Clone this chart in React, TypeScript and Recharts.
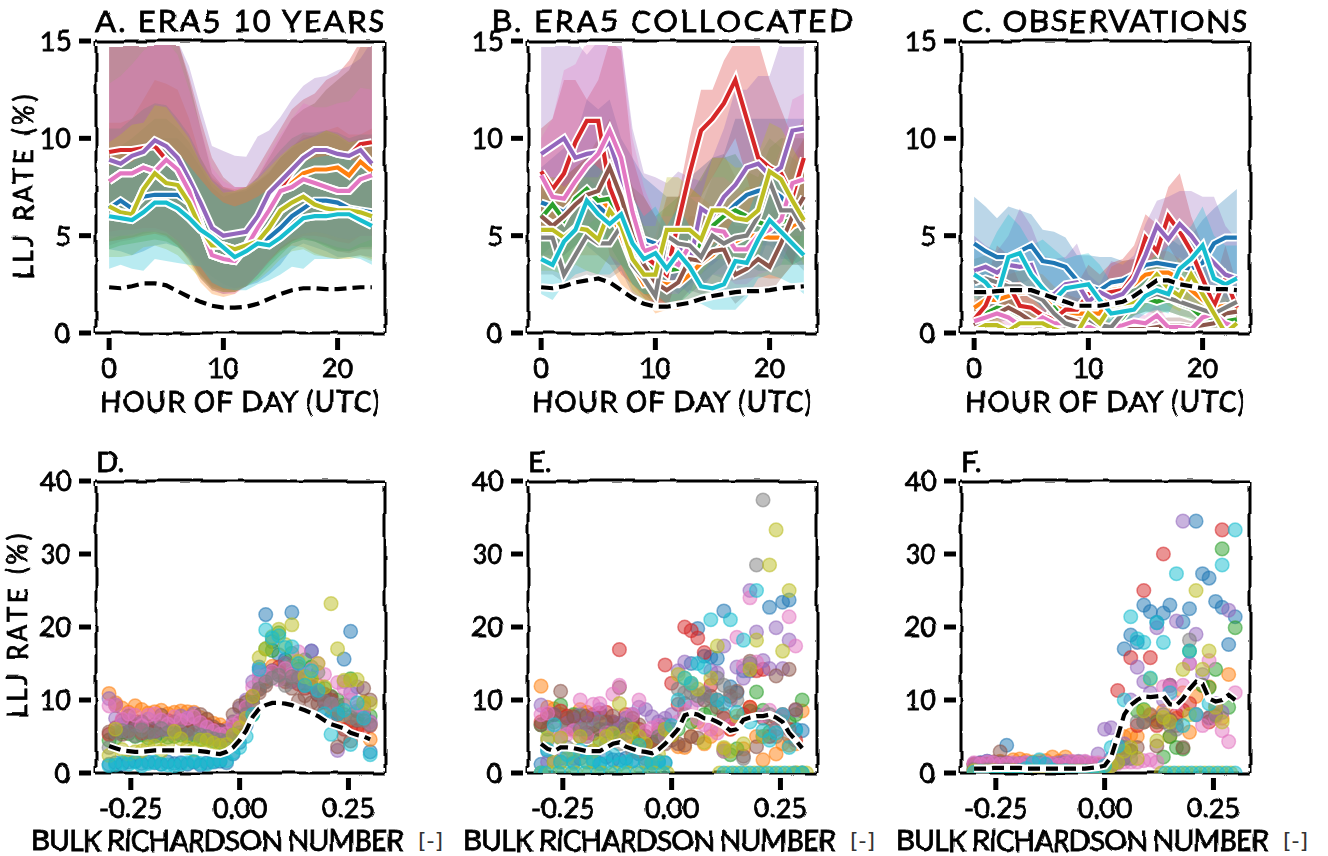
import { ComposedChart, Area, Line, Scatter, XAxis, YAxis, ReferenceLine } from 'recharts';

const n = null;
const seriesColors = ['#1f77b4', '#ff7f0e', '#2ca02c', '#d62728', '#9467bd', '#8c564b', '#e377c2', '#7f7f7f', '#bcbd22', '#17becf'];
const hours = [0, 1, 2, 3, 4, 5, 6, 7, 8, 9, 10, 11, 12, 13, 14, 15, 16, 17, 18, 19, 20, 21, 22, 23];
const hourTicks = [0, 10, 20];
const rateTicks = [0, 5, 10, 15];
const richTicks = [-0.25, 0, 0.25];
const lljTicks = [0, 10, 20, 30, 40];
const richBins = [-0.3, -0.285, -0.27, -0.255, -0.24, -0.225, -0.21, -0.195, -0.18, -0.165, -0.15, -0.135, -0.12, -0.105, -0.09, -0.075, -0.06, -0.045, -0.03, -0.015, 0, 0.015, 0.03, 0.045, 0.06, 0.075, 0.09, 0.105, 0.12, 0.135, 0.15, 0.165, 0.18, 0.195, 0.21, 0.225, 0.24, 0.255, 0.27, 0.285, 0.3];

// panel A, era5 10 years. order follows seriesColors
const meanA = [
  [6.4, 6.8, 6.4, 7.0, 7.1, 7.1, 7.1, 6.7, 5.4, 4.5, 4.5, 4.3, 4.4, 4.7, 4.9, 5.4, 6.0, 6.4, 6.8, 6.8, 6.7, 6.4, 6.3, 6.2],
  [7.8, 8.2, 8.2, 8.5, 8.3, 8.9, 8.4, 7.3, 5.6, 4.0, 3.8, 3.7, 4.5, 5.5, 6.6, 7.3, 7.7, 8.2, 8.4, 8.4, 8.5, 8.1, 8.8, 8.3],
  [6.5, 6.2, 6.1, 7.4, 8.2, 7.7, 7.6, 6.7, 5.4, 4.5, 4.5, 4.3, 4.5, 4.7, 5.4, 6.3, 6.7, 7.0, 6.6, 6.4, 6.3, 6.3, 6.2, 6.0],
  [9.3, 9.4, 9.4, 9.5, 9.6, 8.9, 8.4, 7.3, 5.6, 4.0, 3.8, 3.7, 4.5, 5.6, 6.5, 7.4, 8.3, 9.0, 9.4, 9.4, 9.2, 9.1, 9.7, 9.8],
  [8.9, 8.7, 9.1, 9.3, 9.9, 9.6, 9.0, 7.9, 6.7, 5.4, 5.0, 5.1, 5.2, 6.0, 7.2, 7.8, 8.4, 9.0, 9.4, 9.4, 9.2, 9.1, 9.4, 8.7],
  [7.8, 8.2, 8.2, 8.5, 8.3, 8.9, 8.4, 7.3, 5.6, 4.0, 3.8, 3.7, 4.4, 5.4, 6.3, 7.3, 7.5, 7.9, 7.7, 7.5, 7.3, 7.3, 7.9, 8.1],
  [7.8, 8.2, 8.2, 8.5, 8.3, 8.9, 8.4, 7.3, 5.6, 4.0, 3.8, 3.7, 4.4, 5.4, 6.3, 7.3, 7.5, 7.9, 7.7, 7.5, 7.3, 7.3, 7.9, 8.1],
  [6.0, 5.9, 5.8, 6.2, 6.7, 6.7, 6.4, 5.9, 5.3, 4.9, 4.4, 3.9, 4.2, 4.6, 4.5, 4.9, 5.4, 5.9, 6.0, 6.0, 6.1, 6.1, 5.8, 5.5],
  [6.5, 6.2, 6.1, 7.4, 8.2, 7.7, 7.6, 6.7, 5.4, 4.5, 4.5, 4.3, 4.5, 4.7, 5.4, 6.3, 6.7, 7.0, 6.6, 6.4, 6.3, 6.3, 6.2, 6.0],
  [6.0, 5.9, 5.8, 6.2, 6.7, 6.7, 6.4, 5.9, 5.3, 4.9, 4.4, 3.9, 4.2, 4.6, 4.5, 4.9, 5.4, 5.9, 6.0, 6.0, 6.1, 6.1, 5.8, 5.5],
];
const loA = [
  [4.3, 4.2, 4.0, 4.2, 4.5, 4.6, 4.4, 4.1, 3.4, 2.9, 2.5, 2.3, 2.4, 2.6, 3.0, 3.5, 4.3, 4.6, 4.4, 4.2, 3.9, 3.9, 4.0, 3.9],
  [4.7, 4.8, 4.9, 5.0, 5.1, 5.0, 4.5, 3.7, 2.6, 2.0, 1.85, 2.0, 2.5, 3.2, 3.7, 4.2, 4.5, 4.4, 4.1, 3.9, 3.8, 3.9, 4.0, 3.8],
  [4.3, 4.5, 4.6, 4.7, 4.8, 4.7, 4.4, 3.9, 3.0, 2.4, 2.2, 2.2, 2.4, 2.8, 3.4, 4.0, 4.6, 4.8, 4.7, 4.4, 4.2, 4.2, 4.4, 4.4],
  [5.2, 5.3, 5.3, 5.4, 5.4, 5.2, 4.7, 4.0, 3.0, 2.3, 2.1, 2.1, 2.4, 3.0, 3.7, 4.3, 4.7, 5.0, 5.0, 4.9, 4.7, 4.6, 5.0, 5.0],
  [5.0, 5.0, 5.1, 5.2, 5.3, 5.2, 4.8, 4.1, 3.2, 2.5, 2.3, 2.3, 2.5, 3.0, 3.8, 4.4, 4.9, 5.1, 5.2, 5.1, 4.9, 4.8, 5.0, 5.0],
  [4.7, 4.8, 4.9, 5.1, 5.2, 5.0, 4.5, 3.8, 2.8, 2.2, 2.0, 2.1, 2.4, 3.0, 3.7, 4.3, 4.7, 4.9, 4.7, 4.5, 4.2, 4.1, 4.3, 4.3],
  [4.8, 5.0, 5.0, 5.2, 5.2, 5.1, 4.7, 3.9, 2.8, 2.2, 2.0, 2.0, 2.4, 3.0, 3.7, 4.4, 4.8, 4.9, 4.8, 4.6, 4.4, 4.3, 4.6, 4.8],
  [4.5, 4.7, 4.8, 5.0, 5.1, 4.9, 4.5, 3.8, 2.9, 2.3, 2.1, 2.1, 2.4, 3.0, 3.6, 4.2, 4.6, 4.8, 4.7, 4.5, 4.3, 4.2, 4.4, 4.5],
  [3.9, 3.9, 4.0, 4.4, 4.5, 4.3, 4.0, 3.4, 2.8, 2.2, 2.1, 2.1, 2.4, 2.7, 3.2, 3.8, 4.2, 4.3, 4.0, 3.9, 3.8, 3.8, 3.9, 3.7],
  [3.3, 3.5, 3.3, 3.2, 3.8, 3.7, 3.6, 3.5, 3.4, 2.6, 2.3, 2.2, 2.2, 2.5, 2.7, 3.0, 3.4, 3.3, 3.8, 3.8, 3.8, 3.9, 3.8, 3.5],
];
const hiA = [
  [9.5, 9.4, 9.7, 9.8, 10, 10, 10, 9.4, 8.5, 7.5, 7.0, 7.2, 7.3, 7.7, 8.2, 9.0, 9.5, 9.8, 10.1, 10.3, 10.1, 9.7, 9.9, 9.8],
  [10.8, 10.8, 11, 12, 13, 12.8, 12.5, 11, 9.0, 8.0, 7.5, 7.4, 7.5, 7.8, 8.2, 9.0, 9.5, 10.2, 10.1, 10.4, 10.6, 10.2, 10.2, 10.5],
  [9.3, 9.6, 10, 10.5, 11, 11, 10.5, 9.8, 8.7, 7.7, 7.2, 7.2, 7.4, 7.8, 8.3, 9.0, 9.6, 10, 10.2, 10.4, 10.2, 9.8, 10, 10],
  [15, 15, 15, 15, 15, 15, 15, 13.2, 11, 9.0, 8.0, 7.5, 7.5, 8.5, 9.5, 10.5, 11.5, 12, 12.3, 13, 13.3, 14, 15, 15],
  [15, 15, 15, 15, 15, 15, 15, 13.7, 11.6, 9.6, 9.35, 9.1, 9.05, 10.1, 10.4, 11.1, 12, 12.7, 13.1, 13.2, 13.5, 13.7, 14.1, 15],
  [15, 15, 15, 15, 15, 15, 15, 13, 10.5, 8.2, 7.5, 7.3, 7.4, 8.0, 9.0, 10, 11, 11.5, 11.8, 12.5, 13, 13.5, 14.7, 15],
  [12.8, 13.2, 13.8, 14.5, 15, 15, 14.3, 12.5, 10.5, 8.5, 7.8, 7.5, 7.5, 8.0, 9.2, 10.2, 11, 11.8, 11.6, 11.6, 11.8, 11.9, 12.6, 12.5],
  [10.5, 10.5, 11, 11.5, 11.8, 11.7, 11, 10.2, 9.0, 7.9, 7.4, 7.3, 7.5, 8.0, 8.7, 9.4, 10, 10.3, 10.3, 10.4, 10.3, 10, 10.2, 10.2],
  [9.8, 10.2, 10.7, 10.8, 11.7, 11.6, 10.8, 10, 8.7, 7.8, 7.2, 7.3, 7.5, 7.9, 8.5, 9.1, 9.6, 9.9, 10.1, 10.4, 10.2, 9.8, 9.9, 9.9],
  [8.6, 8.6, 8.8, 9.2, 9.8, 9.7, 9.3, 8.6, 7.9, 7.2, 6.7, 6.5, 6.7, 7.0, 7.4, 8.0, 8.4, 8.8, 9.0, 9.1, 9.1, 8.9, 8.8, 8.4],
];
const dashedA = [2.35, 2.3, 2.4, 2.55, 2.55, 2.45, 2.15, 1.85, 1.6, 1.4, 1.3, 1.3, 1.35, 1.5, 1.75, 2.0, 2.2, 2.3, 2.3, 2.25, 2.25, 2.3, 2.35, 2.35];

// panel B, era5 collocated
const meanB = [
  [6.7, 6.5, 6.2, 6.8, 7.2, 6.5, 6.0, 5.5, 5.0, 4.8, 4.6, 4.0, 3.8, 4.2, 4.8, 5.6, 6.0, 6.6, 7.1, 7.3, 7.4, 7.0, 6.3, 6.1],
  [6.0, 5.6, 5.9, 6.6, 7.0, 7.0, 6.4, 5.0, 3.5, 2.5, 2.6, 2.5, 2.5, 3.0, 3.6, 4.0, 4.6, 4.7, 5.0, 5.0, 4.9, 4.9, 5.5, 5.8],
  [5.9, 6.6, 5.8, 6.9, 7.4, 6.8, 6.9, 5.5, 4.5, 3.5, 3.2, 3.2, 3.3, 3.7, 4.6, 5.5, 6.0, 6.3, 6.0, 5.7, 5.5, 5.7, 5.8, 6.1],
  [8.3, 7.4, 8.2, 9.8, 10.9, 10.9, 7.5, 6.0, 5.0, 4.0, 3.5, 3.0, 5.7, 8.2, 10.4, 11, 11.8, 13, 11, 9.0, 8.5, 8.2, 7.0, 9.0],
  [9.2, 9.6, 10, 9.0, 9.2, 9.3, 9.8, 8.0, 6.5, 4.5, 4.3, 5.0, 4.5, 3.5, 6.4, 6.0, 7.0, 7.6, 8.5, 8.7, 8.1, 8.5, 10.4, 10.5],
  [6.0, 5.5, 6.0, 6.6, 7.1, 7.3, 8.5, 7.0, 5.0, 3.5, 2.6, 2.2, 2.6, 3.8, 3.7, 4.2, 4.3, 3.0, 3.3, 3.8, 3.4, 4.6, 6.0, 7.0],
  [8.1, 7.0, 6.9, 7.8, 8.6, 9.2, 10.4, 9.0, 6.2, 4.2, 4.4, 3.8, 3.5, 4.5, 4.0, 5.3, 5.2, 4.3, 4.3, 5.0, 5.3, 5.8, 7.7, 7.9],
  [4.9, 4.9, 3.0, 4.0, 5.0, 4.6, 4.6, 5.5, 3.5, 2.8, 1.9, 5.0, 4.6, 4.5, 3.9, 5.0, 4.6, 4.9, 5.0, 6.0, 7.8, 6.3, 6.3, 5.3],
  [5.3, 5.3, 4.9, 5.4, 5.3, 4.8, 6.3, 5.5, 3.8, 3.0, 3.0, 5.3, 5.3, 5.3, 4.8, 6.3, 6.3, 5.9, 5.8, 6.3, 8.3, 7.9, 6.8, 5.8],
  [3.8, 3.5, 4.7, 5.3, 6.8, 6.1, 5.6, 6.1, 4.6, 3.8, 4.1, 3.3, 4.1, 3.4, 2.4, 2.3, 2.5, 3.7, 3.6, 4.8, 5.8, 5.2, 4.6, 4.0],
];
const loB = [
  [4.0, 4.0, 4.0, 4.5, 4.5, 4.0, 3.5, 3.5, 3.0, 3.0, 3.0, 2.5, 2.0, 2.5, 3.0, 3.5, 4.0, 4.0, 4.5, 4.5, 4.5, 4.0, 3.5, 3.5],
  [4.0, 3.5, 3.5, 4.0, 4.0, 4.0, 3.5, 2.5, 2.0, 1.8, 1.0, 1.2, 1.2, 1.5, 2.0, 2.0, 2.7, 2.7, 2.8, 2.9, 2.8, 2.8, 3.5, 3.5],
  [4.0, 4.5, 3.5, 4.5, 5.0, 4.5, 4.5, 3.5, 2.5, 2.0, 1.8, 1.5, 1.5, 2.0, 2.5, 3.0, 3.5, 3.8, 3.5, 3.2, 3.2, 3.5, 3.5, 3.8],
  [5.5, 4.5, 5.0, 6.0, 7.0, 7.0, 4.0, 3.0, 2.5, 1.8, 1.5, 1.2, 3.0, 5.0, 7.0, 8.0, 9.0, 10, 8.0, 6.0, 5.0, 4.5, 3.5, 5.5],
  [6.0, 6.5, 6.5, 5.5, 6.0, 6.0, 6.0, 5.0, 4.0, 2.5, 2.5, 3.0, 2.5, 2.0, 3.5, 3.5, 4.0, 4.5, 5.5, 5.5, 5.0, 5.0, 6.5, 7.0],
  [4.0, 3.5, 4.0, 4.5, 5.0, 5.0, 5.5, 4.5, 3.0, 2.0, 1.5, 1.2, 1.5, 2.2, 2.0, 2.2, 2.3, 1.5, 2.0, 2.2, 2.0, 2.8, 3.5, 4.5],
  [5.0, 4.5, 4.5, 5.0, 5.5, 6.0, 7.0, 5.5, 3.5, 2.5, 2.5, 2.0, 2.0, 2.8, 2.2, 3.0, 3.0, 2.5, 2.5, 3.0, 3.2, 3.5, 5.0, 5.0],
  [3.0, 3.0, 2.6, 2.8, 3.0, 2.8, 2.8, 3.2, 2.0, 1.5, 1.5, 3.0, 2.8, 2.8, 2.2, 3.0, 2.8, 3.0, 3.0, 3.5, 5.0, 3.8, 3.8, 3.2],
  [3.2, 3.2, 3.0, 3.5, 3.2, 3.0, 4.0, 3.5, 2.2, 1.7, 1.7, 3.2, 3.2, 3.2, 3.0, 3.8, 3.8, 3.5, 3.5, 3.8, 5.8, 5.5, 4.5, 3.5],
  [2.0, 1.7, 2.5, 3.0, 3.2, 3.0, 3.0, 3.5, 2.5, 2.0, 2.0, 1.5, 1.7, 1.5, 1.5, 1.2, 1.2, 1.2, 1.8, 2.8, 3.0, 2.8, 2.5, 2.0],
];
const hiB = [
  [8.5, 9.0, 9.5, 10, 12, 11.5, 12, 10, 9.0, 8.0, 7.5, 7.0, 7.0, 8.0, 8.5, 9.0, 9.2, 11, 11, 11, 11, 11, 11, 11],
  [8.0, 7.0, 8.0, 8.5, 9.0, 9.0, 8.5, 7.0, 5.5, 4.5, 5.0, 7.0, 7.0, 7.5, 7.0, 6.5, 6.5, 7.0, 7.5, 7.5, 7.0, 7.0, 8.5, 10],
  [7.0, 8.0, 8.0, 8.5, 9.0, 9.0, 9.5, 8.5, 7.5, 7.0, 6.0, 6.5, 7.0, 7.0, 8.0, 9.0, 9.0, 9.2, 8.3, 8.0, 9.5, 10, 10, 10],
  [10.5, 11, 13, 13, 12, 13, 15, 14.5, 9.0, 7.0, 6.0, 5.0, 7.0, 10, 12.5, 12.5, 14, 15, 15, 15, 13, 11.5, 10, 11],
  [15, 15, 15, 15, 14.3, 15, 15, 15, 10.5, 8.2, 8.0, 7.7, 8.3, 8.0, 7.8, 9.0, 10.5, 12.5, 12.5, 13.2, 13.2, 15, 15, 15],
  [8.0, 7.5, 8.0, 8.5, 9.0, 10, 11, 9.5, 7.5, 5.5, 4.5, 4.5, 5.0, 6.0, 6.0, 6.5, 6.5, 5.5, 5.5, 6.0, 6.0, 7.0, 9.0, 10],
  [10, 11, 13.5, 13.8, 15, 15, 15, 15, 10, 7.5, 6.0, 6.0, 6.0, 7.0, 7.0, 8.0, 8.0, 7.5, 7.0, 7.5, 8.0, 9.5, 12, 12.3],
  [7.5, 7.0, 7.0, 7.5, 8.0, 7.5, 8.0, 8.5, 6.0, 5.0, 4.5, 7.0, 7.0, 7.0, 6.5, 8.0, 9.2, 8.0, 8.0, 9.0, 10, 9.5, 9.0, 8.5],
  [8.0, 8.0, 7.5, 8.0, 8.0, 8.0, 9.0, 8.0, 6.5, 5.5, 5.5, 8.0, 8.0, 7.5, 7.0, 9.0, 9.0, 8.5, 8.5, 9.2, 10.8, 10.5, 9.5, 8.5],
  [5.5, 5.0, 6.5, 7.0, 9.0, 8.5, 8.0, 8.5, 7.0, 6.0, 6.5, 5.5, 6.5, 5.5, 4.5, 4.5, 5.0, 6.0, 6.0, 7.5, 8.5, 8.0, 7.0, 6.5],
];
const dashedB = [2.35, 2.3, 2.4, 2.6, 2.7, 2.8, 2.6, 2.2, 1.8, 1.5, 1.35, 1.35, 1.45, 1.55, 1.75, 1.9, 2.0, 2.1, 2.15, 2.15, 2.2, 2.3, 2.35, 2.4];

// panel C, observations
const meanC = [
  [4.6, 4.2, 3.9, 3.9, 4.2, 4.5, 3.7, 3.6, 3.4, 2.7, 2.4, 2.2, 2.6, 2.7, 3.0, 3.5, 3.6, 3.5, 3.4, 3.3, 3.6, 4.6, 4.9, 4.9],
  [1.3, 1.7, 1.7, 1.9, 2.1, 2.1, 1.8, 1.4, 1.1, 1.0, 1.0, 1.0, 2.2, 2.3, 2.5, 3.0, 3.1, 3.1, 2.8, 2.2, 1.7, 1.3, 1.4, 1.2],
  [0.9, 1.0, 1.3, 1.2, 0.9, 0.6, 0.5, 1.3, 0.6, 0.4, 0.3, 0.2, 0.3, 0.8, 1.5, 1.8, 1.6, 1.8, 1.5, 1.3, 0.8, 0.7, 0.6, 0.7],
  [0.7, 1.4, 2.8, 2.5, 1.4, 1.3, 0.9, 0.7, 1.2, 1.2, 2.0, 2.0, 2.1, 2.2, 3.0, 4.9, 4.2, 6.0, 5.2, 4.2, 2.8, 1.4, 2.8, 1.3],
  [3.2, 3.4, 3.1, 3.5, 3.4, 3.5, 2.0, 2.0, 2.5, 2.6, 1.6, 2.1, 1.8, 2.0, 2.7, 4.0, 5.5, 4.8, 5.6, 5.0, 4.2, 3.6, 3.0, 2.8],
  [0.4, 0.8, 1.0, 1.3, 1.0, 0.6, 0.5, 0.4, 0.8, 0.6, 0.3, 0.3, 0.2, 0.2, 0.2, 0.2, 0.3, 0.4, 0.4, 0.3, 0.4, 0.5, 1.0, 1.1],
  [0.6, 0.8, 1.0, 0.8, 0.4, 0.4, 0.8, 0.5, 0.5, 0.4, 0.3, 0.3, 0.3, 0.4, 0.6, 0.5, 0.9, 0.3, 0.3, 0.2, 0.8, 1.0, 0.5, 0.3],
  [2.6, 2.8, 2.6, 2.4, 2.4, 2.0, 1.7, 1.0, 0.5, 0.3, 0.7, 0.4, 0.3, 1.0, 1.6, 1.8, 2.0, 1.8, 1.6, 1.4, 1.2, 1.0, 1.3, 1.6],
  [0.1, 0.4, 0.4, 0.1, 0.5, 0.5, 0.5, 0.2, 0, 0, 1.0, 0.5, 1.4, 1.5, 1.6, 2.3, 3.0, 2.3, 1.9, 3.0, 2.0, 1.0, 0, 0.5],
  [3.0, 2.6, 1.9, 3.9, 4.1, 3.0, 2.3, 1.7, 2.3, 2.4, 2.5, 1.7, 1.0, 1.1, 1.2, 1.9, 2.2, 2.0, 3.3, 3.8, 4.5, 2.8, 2.5, 2.8],
];
const loC = [
  [2.5, 2.3, 2.2, 2.2, 2.5, 2.8, 2.3, 2.0, 2.0, 1.5, 1.0, 1.0, 1.5, 1.7, 2.0, 2.5, 2.4, 2.3, 2.4, 2.0, 2.0, 3.0, 3.0, 3.0],
  [0.7, 1.0, 1.0, 1.2, 1.3, 1.3, 1.1, 0.8, 0.6, 0.5, 0.5, 0.5, 1.3, 1.4, 1.6, 2.0, 2.1, 2.1, 1.9, 1.4, 1.0, 0.7, 0.8, 0.6],
  [0.4, 0.5, 0.7, 0.6, 0.4, 0.3, 0.2, 0.7, 0.2, 0.1, 0.1, 0.05, 0.1, 0.3, 0.9, 1.1, 1.0, 1.1, 0.9, 0.7, 0.4, 0.3, 0.2, 0.3],
  [0.3, 0.6, 1.4, 1.2, 0.6, 0.6, 0.4, 0.3, 0.5, 0.5, 1.0, 1.0, 1.0, 1.0, 1.7, 3.2, 2.8, 4.5, 3.5, 2.6, 1.5, 0.6, 1.4, 0.5],
  [2.0, 2.2, 2.0, 2.2, 2.1, 2.2, 1.1, 1.1, 1.5, 1.6, 0.9, 1.3, 1.0, 1.2, 1.7, 2.6, 3.8, 3.2, 3.9, 3.4, 2.8, 2.3, 1.8, 1.6],
  [0.1, 0.4, 0.5, 0.7, 0.5, 0.3, 0.2, 0.1, 0.4, 0.3, 0.1, 0.1, 0.05, 0.05, 0.05, 0.05, 0.1, 0.1, 0.1, 0.1, 0.1, 0.2, 0.5, 0.5],
  [0.3, 0.4, 0.5, 0.4, 0.1, 0.1, 0.4, 0.2, 0.2, 0.1, 0.1, 0.1, 0.1, 0.1, 0.3, 0.2, 0.5, 0.1, 0.1, 0.05, 0.4, 0.5, 0.2, 0.1],
  [1.6, 1.8, 1.6, 1.5, 1.5, 1.2, 1.0, 0.5, 0.2, 0.1, 0.3, 0.1, 0.1, 0.5, 0.9, 1.1, 1.2, 1.1, 0.9, 0.8, 0.6, 0.5, 0.7, 0.9],
  [0, 0.1, 0.1, 0, 0.2, 0.2, 0.2, 0.05, 0, 0, 0.5, 0.2, 0.8, 0.8, 0.9, 1.4, 2.0, 1.4, 1.1, 2.0, 1.2, 0.5, 0, 0.2],
  [1.8, 1.5, 1.0, 2.4, 2.7, 1.8, 1.3, 0.9, 1.3, 1.4, 1.5, 0.9, 0.4, 0.5, 0.6, 1.0, 1.2, 1.0, 2.0, 2.5, 3.0, 1.6, 1.4, 1.6],
];
const hiC = [
  [7.0, 6.5, 5.9, 6.5, 6.3, 6.1, 5.3, 5.2, 4.9, 4.0, 4.0, 3.9, 3.9, 3.7, 3.8, 4.5, 4.9, 4.9, 4.5, 5.0, 5.8, 6.4, 6.9, 7.4],
  [2.2, 2.8, 2.8, 3.0, 3.2, 3.2, 3.0, 2.4, 2.0, 1.8, 1.8, 1.8, 3.4, 3.7, 3.8, 4.0, 4.2, 4.2, 3.8, 3.2, 2.8, 2.2, 2.3, 2.0],
  [1.5, 1.7, 2.0, 1.9, 1.5, 1.1, 1.0, 2.0, 1.1, 0.8, 0.7, 0.6, 0.7, 1.5, 2.5, 2.9, 2.7, 2.9, 2.4, 2.1, 1.4, 1.3, 1.1, 1.2],
  [1.5, 2.5, 4.5, 4.0, 2.5, 2.0, 1.5, 1.5, 2.5, 2.5, 3.5, 3.0, 3.6, 3.8, 4.5, 6.1, 5.6, 7.5, 8.2, 6.0, 4.5, 2.5, 4.5, 2.5],
  [5.0, 4.5, 4.2, 5.0, 6.4, 5.5, 4.0, 3.8, 3.9, 4.6, 3.0, 2.5, 3.7, 3.5, 4.0, 5.6, 6.8, 7.0, 7.3, 7.3, 7.0, 7.0, 5.5, 4.8],
  [0.8, 1.3, 1.6, 2.0, 1.6, 1.0, 0.9, 0.8, 1.3, 1.0, 0.6, 0.6, 0.5, 0.5, 0.5, 0.5, 0.7, 0.8, 0.8, 0.6, 0.7, 0.9, 1.6, 1.8],
  [1.0, 1.3, 1.6, 1.3, 0.8, 0.8, 1.3, 0.9, 0.9, 0.8, 0.6, 0.6, 0.6, 0.8, 1.1, 0.9, 1.5, 0.6, 0.6, 0.5, 1.3, 1.6, 0.9, 0.6],
  [3.8, 4.0, 3.8, 3.5, 3.5, 3.0, 2.6, 1.7, 1.0, 0.7, 1.2, 0.8, 0.7, 1.7, 2.5, 2.8, 3.0, 2.8, 2.5, 2.2, 2.0, 1.7, 2.1, 2.5],
  [0.3, 0.8, 0.8, 0.3, 0.9, 0.9, 0.9, 0.4, 0.1, 0.1, 1.6, 0.9, 2.2, 2.4, 2.5, 3.4, 4.2, 3.4, 2.9, 4.2, 3.0, 1.6, 0.2, 0.9],
  [4.5, 4.0, 5.2, 6.1, 5.5, 4.5, 4.8, 4.3, 3.8, 4.0, 4.1, 3.5, 2.6, 2.8, 3.0, 3.6, 4.0, 4.5, 5.0, 5.5, 6.5, 5.0, 4.5, 4.5],
];
const dashedC = [2.1, 2.1, 2.15, 2.2, 2.2, 2.2, 2.0, 1.8, 1.6, 1.4, 1.4, 1.4, 1.5, 1.6, 1.9, 2.3, 2.7, 2.7, 2.5, 2.4, 2.3, 2.25, 2.25, 2.2];

// panel D, one value per richBins entry
const dotsD = [
  [1.2, 1.4, 1.2, 1.5, 1.6, 1.3, 1.5, 1.4, 1.2, 1.5, 1.3, 1.4, 1.2, 1.5, 1.1, 1.4, 1.5, 1.6, 1.4, 2.6, 4.2, 6.5, 9.5, 14.5, 21.7, 18, 16.2, 15.5, 22, 14.6, 13, 16.7, 10.8, 8.5, 7.6, 8.2, 15.6, 19.4, 8.5, 8, 2.9],
  [10.9, 9.6, 8.9, 8.3, 9.2, 8.7, 8.2, 8.4, 8.6, 8.1, 8.3, 8.5, 8.4, 8.3, 7.6, 7.3, 6.8, 6.6, 6.1, 6.2, 6.4, 7.8, 9.3, 11.5, 12.9, 14.6, 14, 13.2, 14.6, 13.1, 13.3, 13, 12, 10.7, 9, 8.6, 7.3, 7.2, 6.4, 9.7, 4.6],
  [4.5, 4.8, 5.6, 5.4, 5, 5.2, 4.8, 5, 5.1, 4.9, 5, 5.2, 5, 4.8, 4.6, 4.7, 4.4, 4.2, 4.4, 5, 5.8, 8.2, 8, 12.5, 17, 16.8, 19.2, 15, 16.4, 14.2, 15.5, 14.5, 13.8, 11.6, 10.5, 10, 9.3, 12.9, 8.5, 8, 7.8],
  [5.3, 6.2, 7.2, 5.8, 7, 5.5, 6.2, 5.7, 6, 7.2, 6.1, 6.3, 5.9, 6.6, 7, 6.6, 6, 5.8, 5.2, 6, 6.8, 8, 10.5, 11.5, 12.5, 13.8, 14.5, 12.5, 13.5, 12.2, 11.6, 11.8, 10.7, 9.7, 10, 8, 6, 6.3, 5.8, 6, 6.5],
  [10.2, 7.5, 6.6, 7.2, 6.6, 6.8, 7.4, 5.8, 7.1, 6, 6.6, 7.8, 7.5, 8.1, 6.6, 6.2, 5.5, 5.6, 5.8, 7, 8.9, 10, 12.5, 14, 13.5, 14, 13.5, 15, 12.5, 14, 12, 16.7, 11, 10, 9.5, 3.1, 12.5, 11, 11.8, 9, 7],
  [5.6, 9.3, 5.3, 7.8, 6.4, 7, 5.7, 6.6, 7.9, 6.4, 7, 6.6, 6, 6.7, 8, 7.4, 6.3, 5.8, 5.4, 8, 9.2, 9.7, 10.4, 11, 12, 14, 13.8, 12.9, 11.6, 9.9, 10.6, 9.6, 9.5, 10.8, 10.4, 3.6, 5, 4.4, 7.2, 11.6, 10],
  [9.2, 9.3, 7.4, 8.1, 7.9, 6.5, 7.9, 8.1, 7.3, 6.7, 7.7, 7.2, 7.5, 7.7, 6.9, 6.3, 5.8, 5.3, 5.4, 6.6, 7.1, 9, 11.7, 13.2, 13.3, 13.9, 12.8, 14.3, 13.4, 16.6, 13.5, 14.2, 15, 13.5, 9.4, 12.4, 11.6, 10, 9, 8.6, 6.8],
  [3.5, 5.5, 5.8, 5.6, 5.1, 5.9, 5.3, 5.2, 6.1, 5.5, 5.4, 5.6, 5.2, 5.5, 5.2, 5, 4.7, 4.5, 4.4, 5.2, 5.5, 8, 9.6, 11.5, 12.5, 13, 13.4, 12, 13.2, 13, 12, 12, 11, 9.8, 9.4, 9.3, 8, 7.6, 7.3, 7.2, 6.6],
  [2.4, 6, 3.2, 2.6, 2.9, 3, 3.6, 3.7, 3, 4, 5.7, 4.7, 3.5, 3.2, 4.5, 4.5, 4.1, 3.8, 3.9, 5.2, 6.2, 7.5, 10.5, 15.8, 17, 18.7, 19.7, 17.6, 20.3, 15.3, 13.2, 12.9, 15, 11.8, 23.2, 17, 12.7, 12.7, 12.8, 9.6, 9.5],
  [1, 1.1, 1.4, 1.2, 1.5, 1, 1.3, 1.5, 1.2, 1.1, 1, 1.2, 1.4, 1.6, 1.3, 1.2, 1.6, 1.8, 1.7, 2.8, 3.5, 5, 8, 14.2, 19.6, 18.5, 18.8, 17.2, 17.3, 15, 12, 14, 11.3, 8.1, 5.3, 8.1, 8.6, 3.9, 9.6, 7.5, 2.5],
];
const dashedD = [3.7, 3.4, 3.1, 3.0, 2.9, 2.9, 3.0, 3.1, 3.1, 3.1, 3.1, 3.1, 3.1, 3.1, 3.0, 2.9, 2.7, 2.6, 2.9, 3.5, 4.5, 5.8, 7.7, 8.8, 9.3, 9.6, 9.6, 9.5, 9.3, 8.9, 8.6, 8.2, 7.8, 7.2, 6.7, 6.4, 6.1, 5.5, 5.2, 5.0, 4.6];

// panel E
const dotsE = [
  [1.2, 3, n, 4.8, n, 1.5, 2, 2.8, 1.5, 1.3, 2.2, 1.8, 1.8, 2, 1.6, 2.6, 1.5, 1.3, 1.6, 1.4, 5.5, n, 9.5, 15, 19.8, 16, 15.9, 15.7, 22.2, 11.8, 11, 14, 14, 8, 5, 22.7, 5, 23.4, 23.7, 6, 5.8],
  [11.9, 9, 8.8, 8, 6, 7.8, 8.7, 8.3, 7.7, 7, 6.8, 7, 6, 4.5, 5, 4, 3.8, 3.5, 4, 5, 5, 3.6, 3.5, 5, 7, 4, 5, 6, 3.3, 6, 7, 3.3, 9, 5, 1.8, 5, 2.6, 4, 3.8, 4, 8.5],
  [6.6, 6, 7, 9.3, 6.3, 8, 7.8, 5, 6.5, 4.5, 5.8, 6, 5, 5.5, 5.6, 4.5, 5, 4.3, 5.5, 6.6, 6, 6, 8, 7, n, 8, 8.5, n, 3, 2.5, 3.3, n, 8.5, 11.1, 8.6, 5.6, n, n, 7, 8, 10],
  [7, 8, n, 8.5, 7.8, 6, 6.5, 5.5, 8, 8.2, 8.3, 6.8, 16.9, 8, 7, 6, 5, 4, 6, 14.8, 12.3, 9.4, 20, 19.5, 18.5, 16.5, 12, 10, 7.5, 6, 7, 8, 9, 14, 14.2, 5, 7.5, 8, 6, 4.5, n],
  [9.3, 1.5, 8, 2, 6.8, 7.3, 8, 6.8, 7.5, 8.7, 6, 7, 6.8, 7.5, 8, 9, 8.7, 7.7, 7, 7.5, 8, 14, 15.2, 12, 10, 11, 14, 13.7, 17.4, 10, 14.5, 13, 25, 19.3, 15.4, 14.3, 19.9, 14.3, 18.2, 8.6, n],
  [6.6, 7.5, 8, 11.2, 7.5, 7.7, 5, 7.8, 5.4, 6, 7, 7.8, 11.7, 6.2, 7.5, 6.6, 5, 4, 5, 4, 4.5, 4, 3.8, 5, 4.8, 10, 10.5, 9, 8, 10.5, 11.2, 2.3, 15.3, 3.6, 7.5, 7.5, 13.3, 7.8, 14.2, 8.7, n],
  [8, 8.2, 6, 5, 5.3, 5.8, 10, 5, 9.4, 9.5, 5.5, 10.8, 12, 5, 8, 10, 5.7, 6.2, 6.5, 5, 5.7, 7, 8.5, 9, 7.5, 6.6, 6, 5.5, 3, 6.5, 18.6, 14.7, 24, 15.2, 7.9, 8.6, 6, 7.9, 21.4, 17.4, n],
  [0, 4.5, 1.7, 1.5, 3.5, 2, 6, 6, 3, 7, 4, 5.6, 4, 6.6, 3, 3, 2, 1.5, 5, 6, 6, 11.5, 11, 11, 10.6, 10.8, 10, 13, 12, 11, 10, 2, 15, 28.5, 37.4, 8, 6, 7, 5, 0, 0],
  [0, 4.8, 1.5, 4.8, 2, 3, 5, 1.5, 3, 4, 5, 5.4, 9.5, 4.5, 6, 5, 4, 1.5, 2.6, 6, 5.2, 13.5, 13, 12.3, 11.5, 4.2, 13, 17.4, 3.5, 3, 7.8, 4, 14.2, 18.2, 5, 28.5, 33.3, 16.7, 25, 0, 0],
  [0, 3.2, 6.6, 1.5, 2.5, 1.3, 3.1, 1.5, 1.8, 1.2, 1.3, 2.5, 1.2, 1.5, 1.8, 3.8, 1.3, 1.5, 1.4, 1.4, 6.5, 10, 13, 12.3, 15, 14.5, 21, 10, 9.5, 21, 8.3, 18.2, 7, 25, 5.8, 4.5, 5.5, 8, 3.5, 5.8, 0],
];
const dashedE = [4, 3.3, 3, 3.5, 3.5, 3.4, 3.2, 3, 3, 3, 3.5, 4, 4.2, 3.6, 3.3, 3, 2.9, 2.7, 3.2, 4, 5, 6, 7.9, 8.2, 8, 7.5, 7.4, 7, 6.5, 5.8, 6, 7.3, 7.6, 7.8, 7.8, 8, 7.6, 7, 5.5, 4.5, 3.4];
const floorOliveE = [-0.28, -0.25, -0.22, -0.19, -0.16, -0.13, -0.1, -0.07, -0.04, -0.01, 0.11, 0.13, 0.15, 0.17, 0.19, 0.21, 0.23, 0.25, 0.27, 0.29, 0.31];
const floorCyanE = [-0.29, -0.26, -0.23, -0.2, -0.17, -0.14, -0.11, -0.08, -0.05, -0.02, 0.12, 0.14, 0.16, 0.18, 0.2, 0.22, 0.24, 0.26, 0.28, 0.3];

// panel F
const dotsF = [
  [1, 1.4, 1.6, 1.3, 1.5, 3.8, 1.3, 1.2, 1.1, 1, 1.2, 1.2, 1.3, 1.2, 1.1, 1, 1.2, 1.1, 1, 1, 1, 2, 4, 17, 18.9, 17.9, 23, 22.1, 20.6, 21.9, 23, n, 20.7, 22.5, 34.5, 27.3, 26.7, 23.5, 22.7, 17.6, 21.4],
  [1.2, 1.3, 1.2, 1.5, 1.6, 1.4, 1.8, 1.9, 1.7, 1.5, 1.6, 1.7, 2.2, 1.6, 2.2, 1.5, 1.5, 1.3, 1.2, 1.2, 1.2, 1.5, 3.5, 5, 5.2, 5, 7, 7.8, 7.3, 8.5, 5, 7.5, 11, 5.6, 10.5, 12, 11.8, 9, 7.5, 13.5, n],
  [0.6, 0.5, 0.7, 0.6, 0.7, 0.5, 0.7, 0.5, 0.7, 0.6, 0.5, 0.5, 0.6, 0.7, 0.6, 0.5, 0.6, 0.5, 0.5, 0.5, 1, 1, 2, 3.5, 3, 8.5, 8.7, n, 7, 2.2, 5, 3.5, 3.3, 16.7, 8, 12, 11.7, 14.2, 30.7, 9, 19.9],
  [1.2, 1.3, 1.2, 1.1, 1.1, 1.3, 1, 1.2, 1.1, 1.2, 1.3, 1.1, 1.2, 1.1, 1.3, 1.2, 1.1, 1, 1, 1, 1, 1.2, 11.3, 2, 15.8, 6.5, 25, 15.8, 6.5, 30, 12, 8, 8.6, 9.5, n, n, 7, n, 33.3, n, n],
  [1.3, 1.4, 1.6, 1.5, 1.3, 1.4, 1.2, 1.3, 1.4, 1.2, 1.3, 1.2, 1.1, 1.4, 1.6, 1.5, 1.6, 1.5, 1.3, 2.6, 6, 6.2, 3.5, 4, 10, 14.5, 12.5, 11, 19.9, 10, 12, 20.8, 34.5, 15, 19, 13.5, 7.5, 9.5, 8.3, 22.3, n],
  [0.5, 0.4, 0.6, 0.6, 2.9, 0.6, 0.4, 0.5, 0.4, 0.5, 0.4, 0.4, 0.4, 0.4, 0.4, 0.4, 0.4, 0.4, 0.4, 0.4, 1, 1, 1.5, 2, 3, 3.5, 7, 8, 3.7, 7, 7.3, 6.5, 3.5, n, n, n, 7.6, 7.8, n, n, n],
  [1.4, 1.2, 1.5, 1.4, 1.2, 1.3, 1.4, 1.2, 1.4, 1.3, 1.2, 1.4, 1.3, 1.1, 1.3, 1.6, 1.4, 1.6, 1.4, 1.4, 1.2, 1, 1.3, 1.5, 1.5, 1.5, 1.7, 1.8, 1.5, 11.8, 11.5, 9.6, 12, 15, 8, 6.5, 15.4, 7.5, 5.8, 4.3, 11],
  [0.4, 0.3, 0.4, 0.3, 0.3, 0.4, 0.3, 0.3, 0.3, 0.3, 0.3, 0.3, 0.3, 0.3, 0.3, 0.3, 0.3, 0.3, 0.3, 0.3, 0.5, 1, 1.5, 2, 2, 7, 7, n, n, 8, 6.5, 6, n, 18.2, n, n, n, 8, n, n, n],
  [0.3, 0.2, 0.2, 0.3, 0.2, 0.2, 0.3, 0.2, 0.2, 0.3, 0.2, 0.2, 0.2, 0.2, 0.2, 0.2, 0.2, 0.2, 0.2, 0.2, 0.5, 1, 1.5, 3, 3.5, 2, 8.5, 12.9, 4.4, 7.6, 7, n, 14.2, 8, 25, 14.2, 16.7, 9, 7, n, n],
  [0.1, 0.2, 0.1, 0.2, 0.1, 0.1, 0.2, 0.3, 0.6, 1.4, 1.8, 1.2, 0.4, 0.2, 0.3, 0.2, 0.1, 0.2, 0.1, 0.1, 1, 3.5, 3.7, 10, 21.4, 18.4, 17.9, 13, 20.6, 17.9, 11, 27.3, 6.5, 16.7, 8, n, 9.5, n, 28.5, n, 33.3],
];
const dashedF = [0.6, 0.6, 0.6, 0.7, 0.7, 0.7, 0.7, 0.7, 0.6, 0.6, 0.6, 0.6, 0.6, 0.6, 0.6, 0.6, 0.6, 0.6, 0.7, 0.8, 1, 2.2, 5, 8, 9.3, 10, 10.5, 10.4, 10.5, 10.6, 9.4, 9.3, 10.2, 11.5, 12.5, 12.2, 10.2, 9.8, 10, 10.7, 10];
const floorOliveF = [0.13, 0.15, 0.17, 0.19, 0.21, 0.23, 0.25, 0.27, 0.29];
const floorCyanF = [0.14, 0.16, 0.18, 0.2, 0.22, 0.24, 0.26, 0.28, 0.3];

const fontFamily = "Lato, 'Open Sans', sans-serif";
const hourDomain = [-1.15, 24.15];
const richDomain = [-0.33, 0.334];

const YTick = ({ x, y, payload }: any) => (
  <g>
    <rect x={x - 17} y={y - 2.5} width={12} height={5} fill="#000" />
    <g filter="url(#sketchText)">
      <text x={x - 25} y={y + 10} textAnchor="end" fontSize={27} fontFamily={fontFamily} fill="#000" stroke="#000" strokeWidth={0.8}>{payload.value}</text>
    </g>
  </g>
);

const XTick = ({ x, y, payload }: any) => {
  const label = Math.abs(payload.value) < 1 ? payload.value.toFixed(2) : String(payload.value);
  return (
    <g>
      <rect x={x - 2.5} y={y + 5} width={5} height={12} fill="#000" />
      <g filter="url(#sketchText)">
        <text x={x} y={y + 45} textAnchor="middle" fontSize={27} fontFamily={fontFamily} fill="#000" stroke="#000" strokeWidth={0.8}>{label}</text>
      </g>
    </g>
  );
};

const HourTick = ({ x, y, payload }: any) => (
  <g>
    <rect x={x - 2.5} y={y + 5} width={5} height={12} fill="#000" />
    <g filter="url(#sketchText)">
      <text x={x} y={y + 45} textAnchor="middle" fontSize={27} fontFamily={fontFamily} fill="#000" stroke="#000" strokeWidth={0.8}>{payload.value}</text>
    </g>
  </g>
);

const spineShape = (halo: number) => (p: any) => (
  <g filter="url(#sketchLine)">
    <line x1={p.x1} y1={p.y1} x2={p.x2} y2={p.y2} stroke="#fff" strokeWidth={halo} />
    <line x1={p.x1} y1={p.y1} x2={p.x2} y2={p.y2} stroke="#000" strokeWidth={3} />
  </g>
);

// left and right first, top and bottom go over their ends
function Spines({ xDomain, yMax }: { xDomain: number[]; yMax: number }) {
  return [
    <ReferenceLine key="l" x={xDomain[0]} shape={spineShape(6)} />,
    <ReferenceLine key="r" x={xDomain[1]} shape={spineShape(6)} />,
    <ReferenceLine key="t" y={yMax} shape={spineShape(10)} />,
    <ReferenceLine key="b" y={0} shape={spineShape(10)} />,
  ];
}

const Words = ({ x, y, size, children, anchor = 'middle', length, rotate }: any) => (
  <g filter="url(#sketchText)">
    <text
      x={x}
      y={y}
      fontSize={size}
      fontFamily={fontFamily}
      textAnchor={anchor}
      textLength={length}
      fill="#000"
      stroke="#000"
      strokeWidth={0.8}
      transform={rotate ? `rotate(${rotate} ${x} ${y})` : undefined}
    >
      {children}
    </text>
  </g>
);

function HourPanel({ left, title, titleWidth, means, los, his, dashed, showY }: any) {
  const rows = hours.map((hour, h) => {
    const row: any = { hour, dashed: dashed[h] };
    means.forEach((m: number[], i: number) => {
      row[`m${i}`] = m[h];
      row[`b${i}`] = [los[i][h], his[i][h]];
    });
    return row;
  });
  return (
    <div style={{ position: 'absolute', left, top: 0 }}>
      <ComposedChart width={463} height={425} data={rows} margin={{ top: 41, right: 78, bottom: 42, left: 36 }}>
        <XAxis dataKey="hour" type="number" domain={hourDomain} ticks={hourTicks} axisLine={false} tickLine={false} tickSize={0} tickMargin={0} height={50} tick={<HourTick />} interval={0} />
        <YAxis type="number" domain={[0, 15]} ticks={rateTicks} allowDataOverflow axisLine={false} tickLine={false} tickSize={0} tickMargin={0} width={60} tick={<YTick />} interval={0} />
        {seriesColors.map((c, i) => (
          <Area key={`b${i}`} dataKey={`b${i}`} stroke="none" fill={c} fillOpacity={0.3} isAnimationActive={false} dot={false} activeDot={false} />
        ))}
        {seriesColors.flatMap((c, i) => [
          <Line key={`w${i}`} dataKey={`m${i}`} stroke="#fff" strokeWidth={8} dot={false} activeDot={false} isAnimationActive={false} />,
          <Line key={`m${i}`} dataKey={`m${i}`} stroke={c} strokeWidth={4.2} dot={false} activeDot={false} isAnimationActive={false} />,
        ])}
        <Line dataKey="dashed" stroke="#fff" strokeWidth={8} dot={false} activeDot={false} isAnimationActive={false} />
        <Line dataKey="dashed" stroke="#000" strokeWidth={4.2} strokeDasharray="12 6" dot={false} activeDot={false} isAnimationActive={false} />
        {Spines({ xDomain: hourDomain, yMax: 15 })}
        <Words x={240} y={32} size={31} length={titleWidth}>{title}</Words>
        <Words x={240} y={412} size={28} length={280}>HOUR OF DAY (UTC)</Words>
        {showY && <Words x={33} y={187} size={26} length={185} rotate={-90}>LLJ RATE (%)</Words>}
      </ComposedChart>
    </div>
  );
}

const Dot = ({ cx, cy, fill }: any) => (
  <circle cx={cx} cy={cy} r={6.8} fill={fill} fillOpacity={0.5} stroke={fill} strokeOpacity={0.55} strokeWidth={1.5} />
);
const NoDot = () => <g />;

// Lines paint under Scatter in a composed chart, so the mean goes through Scatter as well
function RichPanel({ left, title, dots, dashed, floorOlive, floorCyan, showY }: any) {
  const rows = richBins.map((x, i) => ({ x, y: dashed[i] }));
  return (
    <div style={{ position: 'absolute', left, top: 440 }}>
      <ComposedChart width={463} height={416} margin={{ top: 41, right: 78, bottom: 33, left: 36 }}>
        <XAxis dataKey="x" type="number" domain={richDomain} ticks={richTicks} axisLine={false} tickLine={false} tickSize={0} tickMargin={0} height={50} tick={<XTick />} interval={0} />
        <YAxis dataKey="y" type="number" domain={[0, 40]} ticks={lljTicks} allowDataOverflow axisLine={false} tickLine={false} tickSize={0} tickMargin={0} width={60} tick={<YTick />} interval={0} />
        {seriesColors.map((c, i) => (
          <Scatter
            key={c}
            data={richBins.map((x, b) => ({ x, y: dots[i][b] })).filter((d) => d.y !== null)}
            fill={c}
            shape={<Dot />}
            isAnimationActive={false}
          />
        ))}
        {floorOlive && <Scatter data={floorOlive.map((x: number) => ({ x, y: 0 }))} fill={seriesColors[8]} shape={<Dot />} isAnimationActive={false} />}
        {floorCyan && <Scatter data={floorCyan.map((x: number) => ({ x, y: 0 }))} fill={seriesColors[9]} shape={<Dot />} isAnimationActive={false} />}
        <Scatter data={rows} line={{ stroke: '#fff', strokeWidth: 8 }} shape={<NoDot />} isAnimationActive={false} />
        <Scatter data={rows} line={{ stroke: '#000', strokeWidth: 4.2, strokeDasharray: '12 6' }} shape={<NoDot />} isAnimationActive={false} />
        {Spines({ xDomain: richDomain, yMax: 40 })}
        <Words x={96} y={32} size={29} anchor="start">{title}</Words>
        <Words x={32} y={411} size={28} anchor="start" length={372}>BULK RICHARDSON NUMBER</Words>
        <text x={418} y={408} fontSize={22} fontFamily="'DejaVu Sans', sans-serif" fill="#333">[-]</text>
        {showY && <Words x={27} y={186} size={26} length={185} rotate={-90}>LLJ RATE (%)</Words>}
      </ComposedChart>
    </div>
  );
}

export default function App() {
  return (
    <div style={{ position: 'absolute', left: 0, top: 0, width: 1328, height: 856, background: '#fff', overflow: 'hidden' }}>
      <svg width={0} height={0} style={{ position: 'absolute' }}>
        <defs>
          <filter id="sketchLine" filterUnits="userSpaceOnUse" x={-20} y={-20} width={520} height={480} colorInterpolationFilters="sRGB">
            <feTurbulence type="fractalNoise" baseFrequency={0.04} numOctaves={2} seed={3} />
            <feDisplacementMap in="SourceGraphic" scale={4} xChannelSelector="R" yChannelSelector="G" />
            <feGaussianBlur stdDeviation={0.45} />
          </filter>
          <filter id="sketchText" filterUnits="userSpaceOnUse" x={-20} y={-20} width={520} height={480} colorInterpolationFilters="sRGB">
            <feTurbulence type="fractalNoise" baseFrequency={0.035} numOctaves={2} seed={8} />
            <feDisplacementMap in="SourceGraphic" scale={4} xChannelSelector="R" yChannelSelector="G" />
            <feGaussianBlur stdDeviation={0.35} />
          </filter>
        </defs>
      </svg>
      <HourPanel left={0} title="A. ERA5 10 YEARS" titleWidth={290} means={meanA} los={loA} his={hiA} dashed={dashedA} showY />
      <HourPanel left={432} title="B. ERA5 COLLOCATED" titleWidth={361} means={meanB} los={loB} his={hiB} dashed={dashedB} />
      <HourPanel left={865} title="C. OBSERVATIONS" titleWidth={286} means={meanC} los={loC} his={hiC} dashed={dashedC} />
      <RichPanel left={0} title="D." dots={dotsD} dashed={dashedD} showY />
      <RichPanel left={432} title="E." dots={dotsE} dashed={dashedE} floorOlive={floorOliveE} floorCyan={floorCyanE} />
      <RichPanel left={865} title="F." dots={dotsF} dashed={dashedF} floorOlive={floorOliveF} floorCyan={floorCyanF} />
    </div>
  );
}
